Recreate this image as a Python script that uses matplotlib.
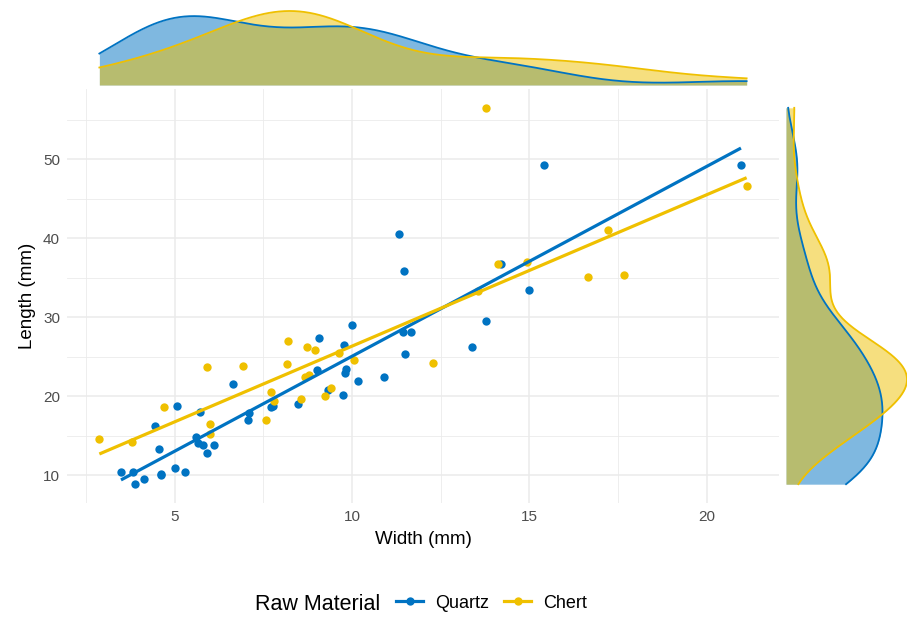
import numpy as np
import matplotlib
matplotlib.use("Agg")
import matplotlib.pyplot as plt
from matplotlib.lines import Line2D

plt.rcParams["font.family"] = ["Liberation Sans", "DejaVu Sans"]

BLUE = "#0073C2"
YELLOW = "#EFC000"
GRID = "#EBEBEB"

materials = ["Quartz", "Chert"]

quartz_width = [3.48, 3.82, 3.87, 4.12, 4.60, 4.62, 5.00, 5.28, 4.55, 4.45,
                5.05, 5.70, 6.63, 5.60, 5.66, 5.80, 6.10, 5.90, 7.05, 7.08,
                7.71, 7.78, 8.48, 9.07, 9.00, 9.31, 9.73, 9.77, 9.84, 9.81,
                10.17, 10.01, 10.90, 11.33, 11.45, 11.44, 11.66, 11.50, 13.39, 13.79,
                14.21, 15.00, 15.41, 20.97]
quartz_length = [10.5, 10.5, 8.9, 9.6, 10.2, 10.0, 10.9, 10.5, 13.3, 16.2,
                 18.8, 18.0, 21.6, 14.9, 14.1, 13.9, 13.8, 12.9, 17.0, 17.9,
                 18.6, 18.8, 19.0, 27.4, 23.3, 20.8, 20.2, 26.5, 23.5, 22.9,
                 21.9, 29.0, 22.4, 40.5, 35.8, 28.1, 28.1, 25.4, 26.3, 29.6,
                 36.7, 33.4, 49.3, 49.3]

chert_width = [2.87, 3.79, 4.70, 5.92, 6.00, 5.99, 6.93, 7.56, 7.71, 7.80,
               8.19, 8.15, 8.74, 8.95, 8.66, 8.79, 8.55, 9.24, 9.40, 9.63,
               10.05, 12.27, 13.55, 13.77, 14.12, 14.94, 16.66, 17.68, 17.23, 21.13]
chert_length = [14.6, 14.2, 18.7, 23.7, 16.5, 15.3, 23.9, 17.0, 20.5, 19.4,
                27.0, 24.1, 26.2, 25.9, 22.4, 22.7, 19.7, 20.1, 21.1, 25.5,
                24.6, 24.2, 33.3, 56.5, 36.7, 37.0, 35.1, 35.4, 41.0, 46.6]

x_ticks = [5, 10, 15, 20]
y_ticks = [10, 20, 30, 40, 50]

groups = [
    (np.array(quartz_width), np.array(quartz_length), BLUE),
    (np.array(chert_width), np.array(chert_length), YELLOW),
]


def bw_nrd0(v):
    # same rule as R's default bandwidth
    sd = np.std(v, ddof=1)
    iqr = np.subtract(*np.percentile(v, [75, 25]))
    lo = min(sd, iqr / 1.34)
    return 0.9 * lo * len(v) ** -0.2


def kde(v, grid):
    bw = bw_nrd0(v)
    z = (grid[:, None] - v[None, :]) / bw
    return np.exp(-0.5 * z ** 2).sum(axis=1) / (len(v) * bw * np.sqrt(2 * np.pi))


all_w = np.concatenate([g[0] for g in groups])
all_l = np.concatenate([g[1] for g in groups])
xlim = (all_w.min() - 0.05 * np.ptp(all_w), all_w.max() + 0.05 * np.ptp(all_w))
ylim = (all_l.min() - 0.05 * np.ptp(all_l), all_l.max() + 0.05 * np.ptp(all_l))

W, H = 907, 618
fig = plt.figure(figsize=(W / 100, H / 100), dpi=100)


def px_axes(x0, y0, x1, y1):
    return fig.add_axes([x0 / W, 1 - y1 / H, (x1 - x0) / W, (y1 - y0) / H])


ax = px_axes(67, 89, 779, 503)
ax_top = px_axes(67, 11, 779, 85)
ax_right = px_axes(786, 89, 907, 503)

# main scatter panel
for w, l, c in groups:
    ax.scatter(w, l, s=36, color=c, linewidths=0, zorder=3)
for w, l, c in groups:
    slope, icpt = np.polyfit(w, l, 1)
    xs = np.array([w.min(), w.max()])
    ax.plot(xs, icpt + slope * xs, color=c, lw=2.3, zorder=4, solid_capstyle="butt")

ax.set_xlim(xlim)
ax.set_ylim(ylim)
ax.set_xticks(x_ticks)
ax.set_yticks(y_ticks)
ax.set_xticks([2.5, 7.5, 12.5, 17.5], minor=True)
ax.set_yticks([15, 25, 35, 45, 55], minor=True)
ax.grid(True, which="major", color=GRID, lw=1.1)
ax.grid(True, which="minor", color=GRID, lw=0.6)
ax.set_axisbelow(True)
for s in ax.spines.values():
    s.set_visible(False)
ax.tick_params(which="both", length=0, labelsize=11, labelcolor="#4D4D4D", pad=5)
ax.set_xlabel("Width (mm)", fontsize=13.5, labelpad=5)
ax.set_ylabel("Length (mm)", fontsize=13.5, labelpad=5)

# marginal densities
gx = np.linspace(all_w.min(), all_w.max(), 512)
gy = np.linspace(all_l.min(), all_l.max(), 512)
top_max = 0
right_max = 0
for w, l, c in groups:
    dx = kde(w, gx)
    dy = kde(l, gy)
    top_max = max(top_max, dx.max())
    right_max = max(right_max, dy.max())
    ax_top.fill_between(gx, 0, dx, color=c, alpha=0.5, lw=0)
    ax_top.plot(gx, dx, color=c, lw=1.3, clip_on=False)
    ax_right.fill_betweenx(gy, 0, dy, color=c, alpha=0.5, lw=0)
    ax_right.plot(dy, gy, color=c, lw=1.3)

ax_top.set_xlim(xlim)
ax_top.set_ylim(0, top_max)
ax_right.set_ylim(ylim)
ax_right.set_xlim(0, right_max)
for a in (ax_top, ax_right):
    a.axis("off")

# legend along the bottom
fig.text(255 / W, 1 - 604 / H, "Raw Material", fontsize=15.5, va="center", ha="left")
handles = [Line2D([], [], color=c, lw=2.3, marker="o", ms=6, markeredgewidth=0)
           for c in (BLUE, YELLOW)]
fig.legend(handles, materials, loc="center left", bbox_to_anchor=(396 / W, 1 - 603 / H),
           ncol=2, frameon=False, fontsize=13, handlelength=1.5, handletextpad=0.65,
           columnspacing=0.85, borderaxespad=0, borderpad=0)

fig.savefig("out.png", dpi=100)
